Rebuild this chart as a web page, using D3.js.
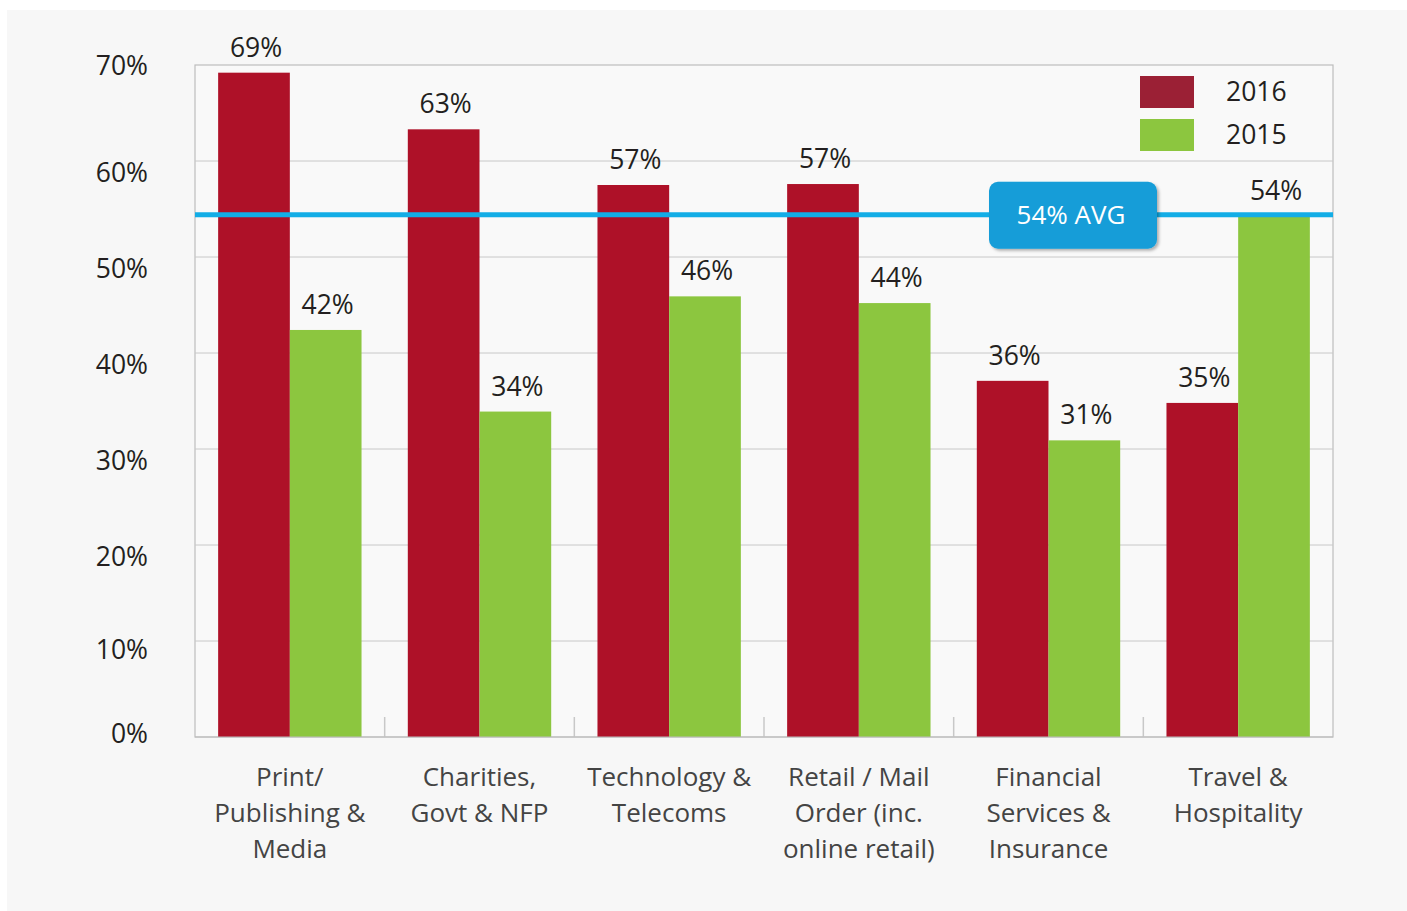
<!DOCTYPE html>
<html>
<head>
<meta charset="utf-8">
<script src="https://cdn.jsdelivr.net/npm/d3@7"></script>
<style>
  body { margin: 0; background: #fff; }
  text { font-family: "Open Sans", "Noto Sans", sans-serif; }
</style>
</head>
<body>
<div id="chart"></div>
<script>
// categories, one label line per entry
var categories = [
    ["Print/", "Publishing &", "Media"],
    ["Charities,", "Govt & NFP"],
    ["Technology &", "Telecoms"],
    ["Retail / Mail", "Order (inc.", "online retail)"],
    ["Financial", "Services &", "Insurance"],
    ["Travel &", "Hospitality"]
];
var series = ["2016", "2015"];
// bar heights
var values2016 = [69.2, 63.3, 57.5, 57.6, 37.1, 34.8];
var values2015 = [42.4, 33.9, 45.9, 45.2, 30.9, 54.3];
// printed labels
var labels2016 = ["69%", "63%", "57%", "57%", "36%", "35%"];
var labels2015 = ["42%", "34%", "46%", "44%", "31%", "54%"];
var yTicks = [0, 10, 20, 30, 40, 50, 60, 70];
var avgValue = 54.4;
var avgLabel = "54% AVG";

var colors = { "2016": "#ae1128", "2015": "#8cc63f" };
var legendColors = { "2016": "#9b2035", "2015": "#8cc63f" };

var W = 1407, H = 911;
var margin = { left: 195, right: 74, top: 65, bottom: 174 };

var svg = d3.select("#chart").append("svg")
    .attr("width", W)
    .attr("height", H);

// outer panel
svg.append("rect")
    .attr("x", 7).attr("y", 10)
    .attr("width", W - 7).attr("height", H - 10)
    .attr("fill", "#f7f7f7");

var x = d3.scaleBand()
    .domain(d3.range(categories.length))
    .range([margin.left, W - margin.right])
    .padding(0);

var bw = x.bandwidth();
var xs = d3.scaleBand()
    .domain(series)
    .range([bw * 0.122, bw * 0.878]);

var y = d3.scaleLinear()
    .domain([0, 70])
    .range([H - margin.bottom, margin.top]);

var g = svg.append("g");

// plot area
g.append("rect")
    .attr("x", margin.left).attr("y", margin.top)
    .attr("width", W - margin.right - margin.left)
    .attr("height", y(0) - margin.top)
    .attr("fill", "#f9f9f9")
    .attr("stroke", "#bdbdbd")
    .attr("stroke-width", 1.2);

// grid
g.selectAll(".grid")
    .data(yTicks.filter(function(d) { return d > 0 && d < 70; }))
    .enter().append("line")
    .attr("x1", margin.left).attr("x2", W - margin.right)
    .attr("y1", function(d) { return y(d); })
    .attr("y2", function(d) { return y(d); })
    .attr("stroke", "#c8c8c8")
    .attr("stroke-width", 1);

// y tick labels
g.selectAll(".ylab")
    .data(yTicks)
    .enter().append("text")
    .attr("x", 148)
    .attr("y", function(d) { return y(d) + (d === 0 ? -3 : d === 70 ? 1 : d === 10 ? 9 : 12); })
    .attr("dy", "0.35em")
    .attr("text-anchor", "end")
    .attr("font-size", 26.5)
    .attr("fill", "#231f20")
    .text(function(d) { return d + "%"; });

// group separators
g.selectAll(".sep")
    .data(d3.range(1, categories.length))
    .enter().append("line")
    .attr("x1", function(d) { return x(d); })
    .attr("x2", function(d) { return x(d); })
    .attr("y1", y(0) - 20).attr("y2", y(0))
    .attr("stroke", "#c8c8c8")
    .attr("stroke-width", 1.5);

// bars
var data = categories.map(function(c, i) {
    return [
        { s: "2016", v: values2016[i], l: labels2016[i] },
        { s: "2015", v: values2015[i], l: labels2015[i] }
    ];
});

var grp = g.selectAll(".grp")
    .data(data)
    .enter().append("g")
    .attr("transform", function(d, i) { return "translate(" + x(i) + ",0)"; });

grp.selectAll("rect")
    .data(function(d) { return d; })
    .enter().append("rect")
    .attr("x", function(d) { return xs(d.s); })
    .attr("width", xs.bandwidth())
    .attr("y", function(d) { return y(d.v); })
    .attr("height", function(d) { return y(0) - y(d.v); })
    .attr("fill", function(d) { return colors[d.s]; });

grp.selectAll(".val")
    .data(function(d) { return d; })
    .enter().append("text")
    .attr("x", function(d) { return xs(d.s) + xs.bandwidth() / 2 + 2; })
    .attr("y", function(d) { return y(d.v) - 16; })
    .attr("text-anchor", "middle")
    .attr("font-size", 26.5)
    .attr("fill", "#231f20")
    .text(function(d) { return d.l; });

// bottom axis line on top of bars
g.append("line")
    .attr("x1", margin.left).attr("x2", W - margin.right)
    .attr("y1", y(0)).attr("y2", y(0))
    .attr("stroke", "#bdbdbd")
    .attr("stroke-width", 1.2);

// category labels
var cat = g.selectAll(".cat")
    .data(categories)
    .enter().append("text")
    .attr("text-anchor", "middle")
    .attr("font-size", 26)
    .attr("fill", "#444");

cat.selectAll("tspan")
    .data(function(d, i) { return d.map(function(t) { return { t: t, i: i }; }); })
    .enter().append("tspan")
    .attr("x", function(d) { return x(d.i) + bw / 2; })
    .attr("y", function(d, j) { return y(0) + 49 + j * 36; })
    .text(function(d) { return d.t; });

// average line
g.append("line")
    .attr("x1", margin.left).attr("x2", W - margin.right)
    .attr("y1", y(avgValue)).attr("y2", y(avgValue))
    .attr("stroke", "#13ade6")
    .attr("stroke-width", 5);

var defs = svg.append("defs");
var f = defs.append("filter").attr("id", "shadow")
    .attr("x", "-10%").attr("y", "-10%").attr("width", "130%").attr("height", "140%");
f.append("feDropShadow")
    .attr("dx", 2).attr("dy", 2).attr("stdDeviation", 1.5)
    .attr("flood-color", "#000").attr("flood-opacity", 0.3);

var boxCx = 1073;
g.append("rect")
    .attr("x", boxCx - 84).attr("y", y(avgValue) - 33)
    .attr("width", 168).attr("height", 67)
    .attr("rx", 9)
    .attr("fill", "#169dd8")
    .attr("filter", "url(#shadow)");

g.append("text")
    .attr("x", boxCx - 2).attr("y", y(avgValue))
    .attr("dy", "0.35em")
    .attr("text-anchor", "middle")
    .attr("font-size", 26)
    .attr("fill", "#fff")
    .text(avgLabel);

// legend
var leg = g.selectAll(".leg")
    .data(series)
    .enter().append("g")
    .attr("transform", function(d, i) { return "translate(1140," + (76 + i * 43) + ")"; });

leg.append("rect")
    .attr("width", 54).attr("height", 32)
    .attr("fill", function(d) { return legendColors[d]; });

leg.append("text")
    .attr("x", 86).attr("y", 16)
    .attr("dy", "0.35em")
    .attr("font-size", 26.5)
    .attr("fill", "#231f20")
    .text(function(d) { return d; });
</script>
</body>
</html>
